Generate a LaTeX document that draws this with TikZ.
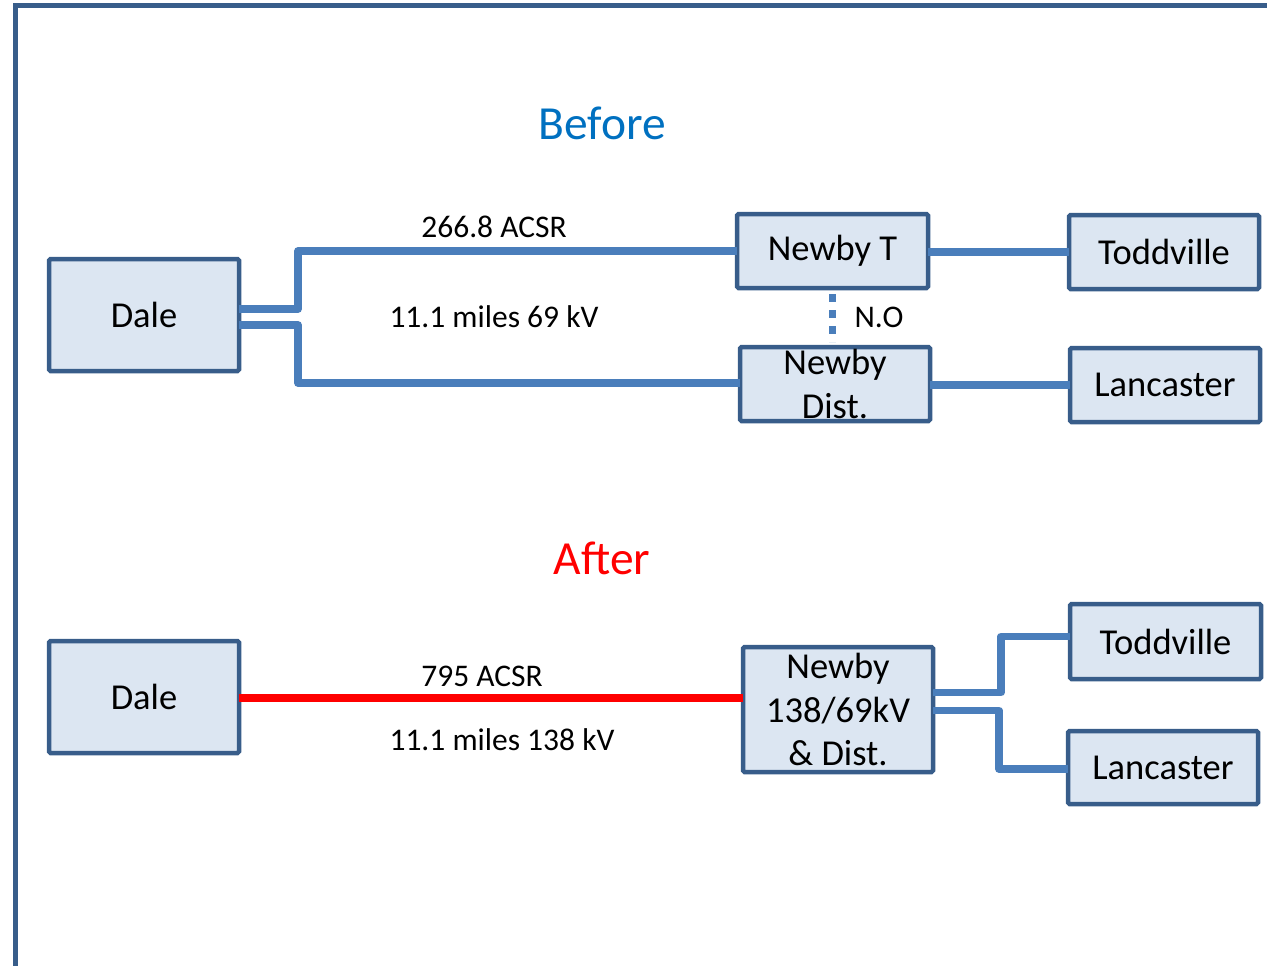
\documentclass[tikz,border=0pt]{standalone}
\usepackage{fontspec}
\setmainfont{Carlito}
\usetikzlibrary{calc}
\definecolor{boxborder}{HTML}{385D8A}
\definecolor{boxfill}{HTML}{DCE6F2}
\definecolor{wire}{HTML}{4A7EBB}
\definecolor{beforeblue}{HTML}{0070C0}
\tikzset{
  station/.style={draw=boxborder, fill=boxfill, line width=4.5pt, rounded corners=1.5pt,
    inner sep=0pt, outer sep=0pt, align=center, font=\fontsize{36.5}{43.5}\selectfont},
  wireline/.style={draw=wire, line width=7.5pt, line join=round},
  redline/.style={draw=red, line width=7.5pt},
  lbl/.style={inner sep=0pt, font=\fontsize{31.5}{37}\selectfont},
  heading/.style={inner sep=0pt, font=\fontsize{47.5}{56}\selectfont},
  dotlink/.style={draw=wire, line width=7.5pt, dash pattern=on 8pt off 8pt}
}
\begin{document}
\begin{tikzpicture}[x=1pt,y=-1pt]
\useasboundingbox (0,0) rectangle (1267,966);
% frame
\draw[boxborder, line width=5pt] (15.5,980) -- (15.5,5.5) -- (1290,5.5);

% titles
\node[heading, text=beforeblue] (before) at (602,123) {Before};
\node[heading, text=red] (after) at (602,558) {After};

% Before section
\node[station, minimum width=190pt, minimum height=112pt] (daleA) at (144,315) {Dale};
\node[station, minimum width=191pt, minimum height=74pt] (newbyT) at (832.5,251) {Newby T};
\node[station, minimum width=190pt, minimum height=74pt] (toddA) at (1164,252) {Toddville};
\node[station, minimum width=190pt, minimum height=74pt] (newbyD) at (835,384) {Newby\\Dist.};
\node[station, minimum width=190pt, minimum height=74pt] (lancA) at (1165,385) {Lancaster};

\draw[wireline] ([yshift=6pt]daleA.east) -- ++(59pt,0) |- (newbyT.west);
\draw[wireline] ([yshift=-10pt]daleA.east) -- ++(59pt,0) |- ([yshift=1pt]newbyD.west);
\draw[wireline] ([yshift=-1pt]newbyT.east) -- ([yshift=-1pt]newbyT.east -| toddA.west);
\draw[wireline] ([yshift=-1pt]newbyD.east) -- ([yshift=-1pt]newbyD.east -| lancA.west);
\coordinate (swtop) at ($(newbyT.south)+(0,6)$);
\coordinate (swbot) at ($(newbyD.north)+(-3,-5)$);
\draw[dotlink] (swtop) -- (swtop |- swbot);
\node[lbl] (no) at (879,317) {N.O};

\node[lbl] (cond1) at (494,227) {266.8 ACSR};
\node[lbl] (len1) at (494,317) {11.1 miles 69 kV};

% After section
\node[station, minimum width=190pt, minimum height=112pt] (daleB) at (144,697) {Dale};
\node[station, minimum width=190pt, minimum height=125pt] (newbyB) at (838,709.5) {Newby\\138/69kV\\\& Dist.};
\node[station, minimum width=191pt, minimum height=75pt] (toddB) at (1165.5,641.5) {Toddville};
\node[station, minimum width=190pt, minimum height=73pt] (lancB) at (1163,767.5) {Lancaster};

\draw[redline] (daleB.east |- 0,698) -- (newbyB.west |- 0,698);
\draw[wireline] ([yshift=17pt]newbyB.east) -- ++(68pt,0) |- ([yshift=5pt]toddB.west);
\draw[wireline] ([yshift=-1pt]newbyB.east) -- ++(66pt,0) |- ([yshift=-1.5pt]lancB.west);

\node[lbl] (cond2) at (482,676) {795 ACSR};
\node[lbl] (len2) at (502,740) {11.1 miles 138 kV};
\end{tikzpicture}
\end{document}
